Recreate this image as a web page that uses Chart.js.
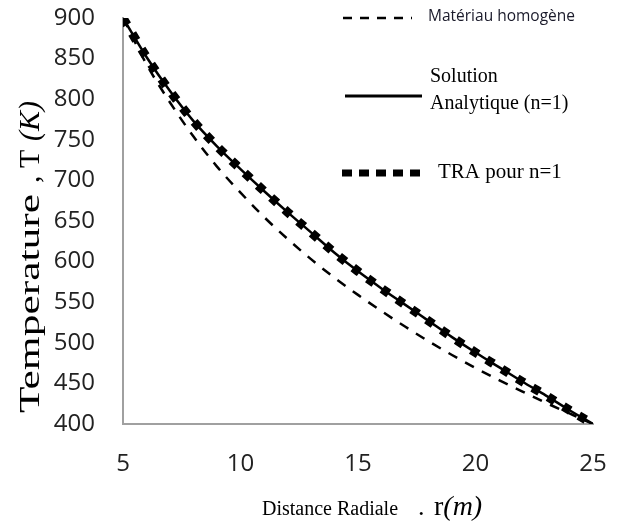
<!DOCTYPE html>
<html>
<head>
<meta charset="utf-8">
<script src="https://cdn.jsdelivr.net/npm/chart.js@4/dist/chart.umd.min.js"></script>
<style>
  body { margin: 0; background: #fff; }
</style>
</head>
<body>
<canvas id="tempChart" width="621" height="523"></canvas>
<script>
// radial distance r (m)
const radius = [5, 6, 7, 8, 9, 10, 11, 12, 13, 14, 15, 16, 17, 18, 19, 20, 21, 22, 23, 24, 25];

// temperature T (K) for each curve
const homogene = [900, 843, 796, 754, 717, 685, 655, 628, 603, 580, 559, 539, 520, 502, 485, 469, 454, 440, 426, 413, 400];
const analytique = [900, 852, 810, 773, 742, 714, 687, 661, 636, 611, 588, 567, 547, 527, 507, 488, 470, 452, 435, 417, 400];
const tra = [900, 852, 810, 773, 742, 714, 687, 661, 636, 611, 588, 567, 547, 527, 507, 488, 470, 452, 435, 417, 400];

const xTicks = [5, 10, 15, 20, 25];
const yTicks = [400, 450, 500, 550, 600, 650, 700, 750, 800, 850, 900];

const toPoints = (values) => radius.map((r, i) => ({ x: r, y: values[i] }));

const SERIF = '"Liberation Serif", "Times New Roman", serif';

// draws a run of text pieces with different fonts, starting at x
function drawPieces(ctx, pieces, x, y) {
    pieces.forEach((p) => {
        ctx.font = p.font;
        ctx.fillText(p.text, x, y);
        x += ctx.measureText(p.text).width;
    });
}

function sampleLine(ctx, x1, x2, y, width, dash) {
    ctx.lineWidth = width;
    ctx.setLineDash(dash);
    ctx.beginPath();
    ctx.moveTo(x1, y);
    ctx.lineTo(x2, y);
    ctx.stroke();
}

// legend and axis titles
const decorations = {
    id: 'decorations',
    afterDraw(chart) {
        const ctx = chart.ctx;
        ctx.save();
        ctx.strokeStyle = '#000';
        ctx.fillStyle = '#000';
        ctx.lineCap = 'butt';

        sampleLine(ctx, 343, 412, 18, 2.5, [9, 8]);
        sampleLine(ctx, 345, 422, 96, 3, []);
        sampleLine(ctx, 342, 422, 173, 7, [10, 7]);
        ctx.setLineDash([]);

        ctx.textBaseline = 'middle';
        ctx.textAlign = 'left';
        ctx.fillStyle = '#1a1a2a';
        ctx.font = '15.5px "Open Sans", sans-serif';
        ctx.fillText('Matériau homogène', 428, 17);

        ctx.fillStyle = '#000';
        ctx.font = '20px ' + SERIF;
        ctx.fillText('Solution', 430, 77);
        ctx.fillText('Analytique (n=1)', 430, 104);
        ctx.font = '21px ' + SERIF;
        ctx.fillText('TRA pour n=1', 438, 172);

        // y axis title, the word "Temperature" is stretched along the axis
        ctx.save();
        ctx.translate(31, 0);
        ctx.rotate(-Math.PI / 2);
        ctx.textBaseline = 'middle';
        ctx.font = '30px ' + SERIF;
        ctx.save();
        ctx.translate(-413, 0);
        ctx.scale(1.45, 1);
        ctx.fillText('Temperature', 0, 0);
        ctx.restore();
        ctx.fillText(',', -183, 0);
        ctx.fillText('T', -168, 0);
        ctx.font = 'italic 30px ' + SERIF;
        ctx.fillText('(K)', -141, 0);
        ctx.restore();

        // x axis title
        ctx.textBaseline = 'alphabetic';
        ctx.font = '20px ' + SERIF;
        ctx.fillText('Distance Radiale', 262, 515);
        ctx.font = '26px ' + SERIF;
        ctx.fillText('.', 418, 515);
        drawPieces(ctx, [
            { text: 'r', font: '28px ' + SERIF },
            { text: '(m)', font: 'italic 28px ' + SERIF },
        ], 434, 515);

        ctx.restore();
    }
};

// keep the chart area fixed: no extra room for the outer tick labels
function fixSize(scale, size) {
    if (scale.isHorizontal()) {
        scale.height = size;
    } else {
        scale.width = size;
    }
    scale.paddingTop = 0;
    scale.paddingBottom = 0;
    scale.paddingLeft = 0;
    scale.paddingRight = 0;
}

const data = {
    datasets: [
        {
            label: 'Solution Analytique (n=1)',
            data: toPoints(analytique),
            borderColor: '#000',
            borderWidth: 2.5,
            pointRadius: 0,
            cubicInterpolationMode: 'monotone',
        },
        {
            label: 'TRA pour n=1',
            data: toPoints(tra),
            borderColor: '#000',
            borderWidth: 9,
            borderDash: [8, 10],
            borderCapStyle: 'butt',
            pointRadius: 0,
            cubicInterpolationMode: 'monotone',
        },
        {
            label: 'Matériau homogène',
            data: toPoints(homogene),
            borderColor: '#000',
            borderWidth: 2.5,
            borderDash: [10, 9],
            pointRadius: 0,
            cubicInterpolationMode: 'monotone',
        },
    ]
};

const config = {
    type: 'line',
    data: data,
    options: {
        responsive: false,
        animation: false,
        layout: {
            padding: { left: 0, right: 28, top: 18, bottom: 0 }
        },
        plugins: {
            legend: { display: false },
            tooltip: { enabled: false }
        },
        scales: {
            x: {
                type: 'linear',
                min: 5,
                max: 25,
                afterBuildTicks: (scale) => { scale.ticks = xTicks.map((v) => ({ value: v })); },
                afterFit: (scale) => fixSize(scale, 99),
                grid: { display: false, drawTicks: false },
                border: { display: true, color: '#a0a0a0', width: 2 },
                ticks: {
                    padding: 26,
                    color: '#222',
                    maxRotation: 0,
                    font: { family: '"Open Sans", sans-serif', size: 24 }
                }
            },
            y: {
                min: 400,
                max: 900,
                afterBuildTicks: (scale) => { scale.ticks = yTicks.map((v) => ({ value: v })); },
                afterFit: (scale) => fixSize(scale, 123),
                grid: { display: false, drawTicks: false },
                border: { display: true, color: '#a0a0a0', width: 2 },
                ticks: {
                    padding: 28,
                    color: '#222',
                    font: { family: '"Open Sans", sans-serif', size: 24 }
                }
            }
        }
    },
    plugins: [decorations]
};

const tempChart = new Chart(document.getElementById('tempChart'), config);
</script>
</body>
</html>
